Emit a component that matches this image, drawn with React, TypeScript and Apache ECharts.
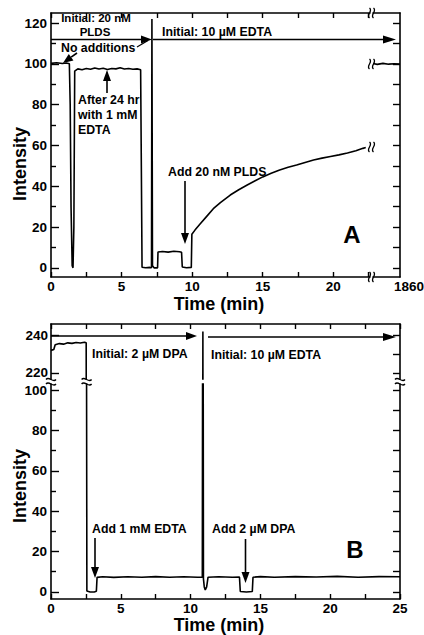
import React, { useEffect, useRef } from 'react';
import * as echarts from 'echarts';

// ---------- Panel A data (time in min, intensity) ----------
const aTime = [
  0, 0.4, 0.8, 1.1, 1.3, 1.36, 1.42, 1.5, 1.56, 1.62, 1.68,
  1.9, 2.2, 2.5, 2.8, 3.1, 3.4, 3.7, 4.0, 4.3, 4.6, 4.9, 5.2, 5.5, 5.8, 6.1, 6.35,
  6.4, 6.45, 6.7, 7.0, 7.12, 7.15, 7.19, 7.3, 7.55, 7.58, 7.9, 8.3, 8.7, 9.1, 9.25,
  9.3, 9.6, 9.94, 9.98, 10.2, 10.56, 11.0, 11.5, 12.0, 12.7, 13.3, 13.9, 14.5,
  15.0, 15.6, 16.2, 16.8, 17.4, 18.0, 18.6, 19.2, 19.8, 20.4, 21.0, 21.6, 22.1, 22.3,
];
const aIntensity = [
  100.3, 100.6, 100.2, 100.5, 100.1, 80, 30, 1, 0, 20, 96.5,
  97.6, 97.2, 97.8, 97.4, 98.0, 97.5, 97.9, 97.3, 97.8, 97.6, 98.1, 97.5, 97.8, 97.4, 97.6, 97.2,
  50, 0.3, 0, 0.2, 0, 122, 1, 0, 0, 7.8, 8.0, 7.7, 8.1, 7.9, 7.6,
  0.4, 0, 0.2, 16.5, 18.5, 21.5, 25, 29, 32, 35.7, 38.3, 40.6, 42.8,
  44.6, 46.4, 48, 49.3, 50.4, 51.7, 52.9, 53.8, 54.6, 55.4, 56.3, 57.4, 58.6, 59,
];
// Panel A, after the axis break (1860 min)
const aLateTime = [1858.1, 1858.4, 1858.8, 1859.2, 1859.6, 1860];
const aLateIntensity = [100.2, 99.8, 100.3, 99.9, 100.1, 100];

// ---------- Panel B data ----------
const bTime = [
  0, 0.2, 0.3, 0.6, 0.9, 1.2, 1.5, 1.8, 2.1, 2.4, 2.52, 2.57, 2.8, 3.1, 3.25, 3.3,
  3.7, 4.5, 5.5, 6.5, 7.5, 8.5, 9.5, 10.5, 10.84, 10.88, 10.92, 10.98, 11.05, 11.15, 11.25,
  12.0, 13.0, 13.5, 13.56, 14.0, 14.42, 14.47, 15.0, 16.0, 17.5, 19.0, 20.5, 22.0, 23.5, 25,
];
const bIntensity = [
  232, 232.5, 235, 235.6, 235.3, 236, 235.7, 236.2, 235.9, 236.3, 236, 0.5, 0, 0, 0.3, 7.2,
  7.5, 7.2, 7.5, 7.3, 7.6, 7.3, 7.5, 7.3, 7.3, 242, 6.5, 2.5, 1, 2.5, 7.3,
  7.5, 7.3, 7.4, 0.2, 0, 0.2, 7.3, 7.6, 7.3, 7.6, 7.4, 7.7, 7.3, 7.6, 7.5,
];

// ---------- Tick values ----------
const aTimeLabels = [0, 5, 10, 15, 20];
const aTimeTicks = [0, 2.5, 5, 7.5, 10, 12.5, 15, 17.5, 20, 22.5];
const aLateLabels = [1860];
const aIntensityLabels = [0, 20, 40, 60, 80, 100, 120];
const aIntensityMinor = [10, 30, 50, 70, 90, 110];
const aIntensityRight = [0, 10, 20, 30, 40, 50, 60, 70, 80, 90, 100, 110, 120];
const bTimeLabels = [0, 5, 10, 15, 20, 25];
const bTimeTicks = [0, 2.5, 5, 7.5, 10, 12.5, 15, 17.5, 20, 22.5, 25];
const bHighLabels = [220, 240];
const bHighRight = [220, 230, 240];
const bLowLabels = [0, 20, 40, 60, 80, 100];
const bLowMinor = [10, 30, 50, 70, 90];
const bLowRight = [0, 10, 20, 30, 40, 50, 60, 70, 80, 90, 100];

const FONT = '"Liberation Sans", Arial, Helvetica, sans-serif';
const BLACK = '#000';

const zip = (xs: number[], ys: number[]) => xs.map((x, i) => [x, ys[i]]);

const lineStyle = { color: BLACK, width: 1.6 };
const labelStyle = {
  fontFamily: FONT, fontWeight: 'bold' as const, fontSize: 13.5, color: BLACK,
  formatter: (v: number) => String(v),
};
const nameStyle = (padding: number[]) => ({
  fontFamily: FONT, fontWeight: 'bold', fontSize: 18, color: BLACK, padding,
});

function xAx(o: any) {
  return {
    type: 'value',
    splitLine: { show: false },
    axisLine: { show: true, onZero: false, lineStyle },
    axisTick: { show: false },
    axisLabel: { show: false },
    nameMoveOverlap: false,
    ...o,
  };
}
function yAx(o: any) {
  return {
    type: 'value',
    splitLine: { show: false },
    axisLine: { show: true, onZero: false, lineStyle },
    axisTick: { show: false },
    axisLabel: { show: false },
    nameMoveOverlap: false,
    ...o,
  };
}
function ticks(values: number[], length: number) {
  return { show: true, inside: true, length, customValues: values, lineStyle: { color: BLACK, width: 1.4 } };
}

function text(t: string, x: number, y: number, align = 'left', size = 12.3) {
  return {
    type: 'text', x, y, z: 10,
    style: { text: t, fill: BLACK, fontFamily: FONT, fontWeight: 'bold', fontSize: size, align, verticalAlign: 'middle' },
  };
}
function arrow(x1: number, y1: number, x2: number, y2: number, len = 11, half = 4) {
  const dx = x2 - x1, dy = y2 - y1;
  const d = Math.sqrt(dx * dx + dy * dy);
  const ux = dx / d, uy = dy / d;
  const bx = x2 - ux * len, by = y2 - uy * len;
  return [
    { type: 'line', z: 10, shape: { x1, y1, x2: bx, y2: by }, style: { stroke: BLACK, lineWidth: 1.6 } },
    {
      type: 'polygon', z: 10,
      shape: { points: [[x2, y2], [bx - uy * half, by + ux * half], [bx + uy * half, by - ux * half]] },
      style: { fill: BLACK },
    },
  ];
}
function vWave(x: number, y: number) {
  return {
    type: 'bezierCurve', z: 11,
    shape: { x1: x, y1: y - 5, x2: x, y2: y + 5, cpx1: x + 4, cpy1: y - 2, cpx2: x - 4, cpy2: y + 2 },
    style: { stroke: BLACK, lineWidth: 1.3, fill: 'none' },
  };
}
function hWave(x: number, y: number) {
  return {
    type: 'bezierCurve', z: 11,
    shape: { x1: x - 5, y1: y, x2: x + 5, y2: y, cpx1: x - 2, cpy1: y - 4, cpx2: x + 2, cpy2: y + 4 },
    style: { stroke: BLACK, lineWidth: 1.3, fill: 'none' },
  };
}

export default function App() {
  const ref = useRef<HTMLDivElement>(null);
  useEffect(() => {
    document.body.style.margin = '0';
    if (!ref.current) return;
    const chart = echarts.init(ref.current, undefined, { renderer: 'svg' });

    const graphic: any[] = [
      // Panel A annotations
      text('Initial: 20 nM', 96, 17.5, 'center', 11.5),
      text('PLDS', 95, 31.5, 'center', 11.5),
      text('Initial: 10 \u00b5M EDTA', 162, 32),
      text('No additions', 61, 48),
      text('After 24 hr', 78, 100),
      text('with 1 mM', 78, 115),
      text('EDTA', 78, 130),
      text('Add 20 nM PLDS', 168, 172),
      text('A', 352, 234, 'center', 24),
      ...arrow(51, 39.5, 152, 39.5),
      ...arrow(153, 39.5, 396, 39.5, 13),
      ...arrow(77, 53, 63, 63, 10, 4),
      ...arrow(107, 93, 107, 70),
      ...arrow(185, 181, 185, 244),
      { type: 'line', z: 10, shape: { x1: 137, y1: 47, x2: 148, y2: 40.5 }, style: { stroke: BLACK, lineWidth: 1.2 } },
      ...[13, 64, 147, 277].flatMap((y) => [vWave(369.5, y), vWave(373.5, y)]),
      // Panel B annotations
      text('Initial: 2 \u00b5M DPA', 92, 354),
      text('Initial: 10 \u00b5M EDTA', 211, 355),
      text('Add 1 mM EDTA', 92, 529),
      text('Add 2 \u00b5M DPA', 212, 529),
      text('B', 355, 549, 'center', 24),
      ...arrow(51, 336, 197, 336),
      ...arrow(208, 337, 396, 337, 13),
      ...arrow(95, 538, 95, 578),
      ...arrow(245.5, 539, 245.5, 583),
      ...[51, 86.6, 400].flatMap((x) => [hWave(x, 379.5), hWave(x, 384)]),
    ];

    const g = { outerBoundsMode: 'none', containLabel: false };
    const option: any = {
      animation: false,
      backgroundColor: '#fff',
      grid: [
        { left: 51, top: 13, width: 319, height: 264, ...g },
        { left: 373, top: 13, width: 27, height: 264, ...g },
        { left: 51, top: 324, width: 349, height: 55, ...g },
        { left: 51, top: 384, width: 349, height: 215, ...g },
      ],
      xAxis: [
        xAx({
          gridIndex: 0, position: 'bottom', min: 0, max: 22.6,
          axisTick: ticks(aTimeTicks, 5),
          axisLabel: { show: true, customValues: aTimeLabels, margin: 2, ...labelStyle },
          name: 'Time (min)', nameLocation: 'middle', nameGap: 18,
          nameTextStyle: nameStyle([0, 0, 0, 17]),
        }),
        xAx({ gridIndex: 0, position: 'top', min: 0, max: 22.6, axisTick: ticks(aTimeTicks, 5) }),
        xAx({
          gridIndex: 1, position: 'bottom', min: 1858.1, max: 1860,
          axisLabel: { show: true, customValues: aLateLabels, margin: 2, padding: [0, 0, 0, 18], ...labelStyle },
        }),
        xAx({ gridIndex: 1, position: 'top', min: 1858.1, max: 1860 }),
        xAx({ gridIndex: 2, position: 'top', min: 0, max: 25, axisTick: ticks(bTimeTicks, 5) }),
        xAx({
          gridIndex: 3, position: 'bottom', min: 0, max: 25,
          axisTick: ticks(bTimeTicks, 5),
          axisLabel: { show: true, customValues: bTimeLabels, margin: 2, ...labelStyle },
          name: 'Time (min)', nameLocation: 'middle', nameGap: 17,
          nameTextStyle: nameStyle([0, 13, 0, 0]),
        }),
      ],
      yAxis: [
        yAx({
          gridIndex: 0, position: 'left', min: -4.5, max: 125,
          axisTick: ticks(aIntensityLabels, 8),
          axisLabel: { show: true, customValues: aIntensityLabels, margin: 4, ...labelStyle },
          name: 'Intensity', nameLocation: 'middle', nameRotate: 90, nameGap: 22,
          nameTextStyle: nameStyle([0, 38, 0, 0]),
        }),
        yAx({ gridIndex: 0, position: 'left', min: -4.5, max: 125, axisLine: { show: false, onZero: false }, axisTick: ticks(aIntensityMinor, 5) }),
        yAx({ gridIndex: 1, position: 'right', min: -4.5, max: 125, axisTick: ticks(aIntensityRight, 7) }),
        yAx({
          gridIndex: 2, position: 'left', min: 216.8, max: 246,
          axisTick: ticks(bHighLabels, 8),
          axisLabel: { show: true, customValues: bHighLabels, margin: 3, ...labelStyle },
        }),
        yAx({ gridIndex: 2, position: 'right', min: 216.8, max: 246, axisTick: ticks(bHighRight, 7) }),
        yAx({
          gridIndex: 3, position: 'left', min: -3.5, max: 103,
          axisTick: ticks(bLowLabels, 8),
          axisLabel: { show: true, customValues: bLowLabels, margin: 4, ...labelStyle },
          name: 'Intensity', nameLocation: 'middle', nameRotate: 90, nameGap: 22,
          nameTextStyle: nameStyle([0, 0, 0, 11]),
        }),
        yAx({ gridIndex: 3, position: 'left', min: -3.5, max: 103, axisLine: { show: false, onZero: false }, axisTick: ticks(bLowMinor, 5) }),
        yAx({ gridIndex: 3, position: 'right', min: -3.5, max: 103, axisTick: ticks(bLowRight, 7) }),
      ],
      series: [
        { type: 'line', xAxisIndex: 0, yAxisIndex: 0, data: zip(aTime, aIntensity), symbol: 'none', lineStyle, z: 5 },
        { type: 'line', xAxisIndex: 2, yAxisIndex: 2, data: zip(aLateTime, aLateIntensity), symbol: 'none', lineStyle, z: 5 },
        { type: 'line', xAxisIndex: 4, yAxisIndex: 3, data: zip(bTime, bIntensity), symbol: 'none', lineStyle, z: 5 },
        { type: 'line', xAxisIndex: 5, yAxisIndex: 5, data: zip(bTime, bIntensity), symbol: 'none', lineStyle, z: 5 },
      ],
      graphic,
    };
    chart.setOption(option);
    return () => chart.dispose();
  }, []);
  return <div ref={ref} style={{ width: 424, height: 635 }} />;
}
